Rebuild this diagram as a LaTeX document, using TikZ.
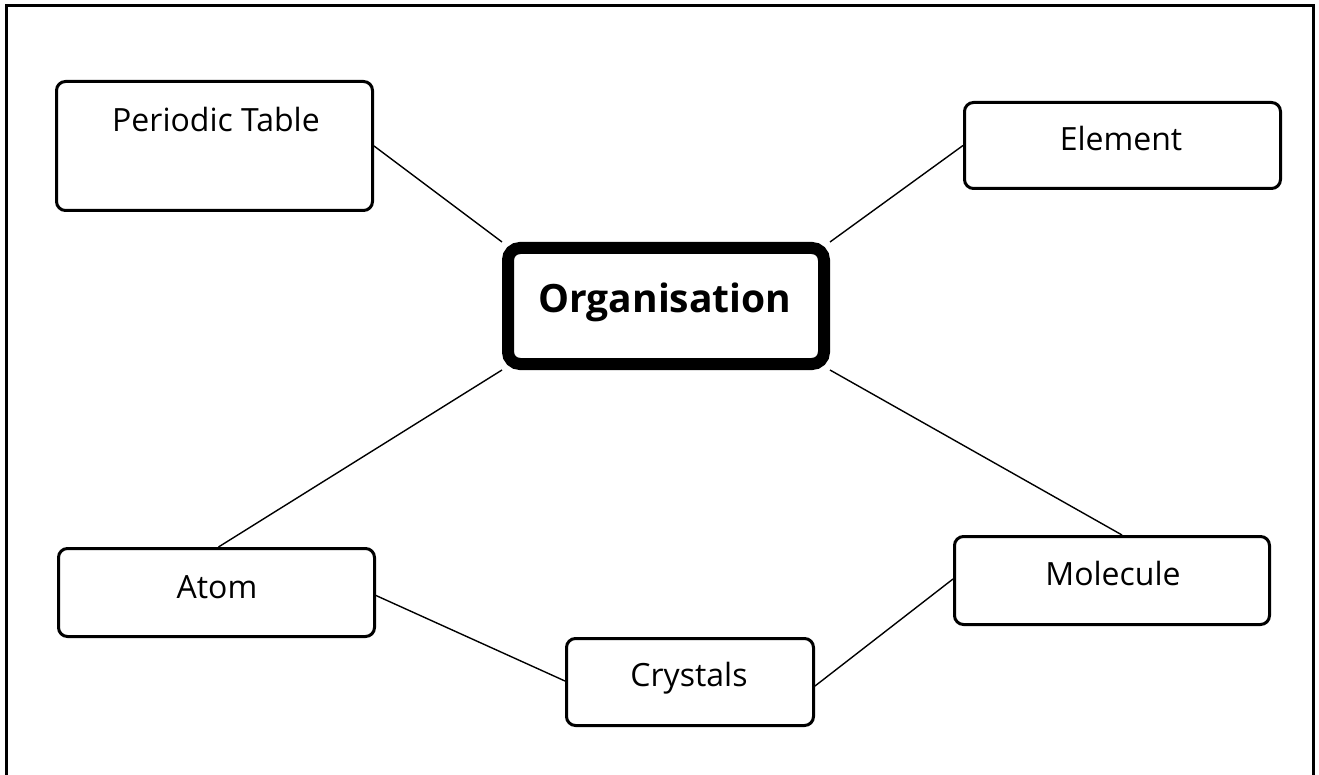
\documentclass[tikz,border=0pt]{standalone}
\usepackage{fontspec}
\setmainfont{Open Sans}
\usetikzlibrary{backgrounds}
\begin{document}
\begin{tikzpicture}[x=1pt,y=-1pt,
  box/.style={draw, line width=3pt, rounded corners=9pt, fill=white, inner sep=0pt},
  mainbox/.style={draw, line width=12pt, rounded corners=12pt, fill=white, inner sep=0pt,
    minimum width=316pt, minimum height=116pt},
  lbl/.style={font=\fontsize{32}{38}\selectfont, inner sep=0pt, anchor=base},
  mainlbl/.style={font=\fontsize{39}{46}\selectfont\bfseries, inner sep=0pt, anchor=base},
  link/.style={line width=1.4pt}]
\useasboundingbox (0,0) rectangle (1319,775);
\draw[line width=3pt] (6.5,800) -- (6.5,5.5) -- (1313,5.5) -- (1313,800);

\node[box, minimum width=316pt, minimum height=129pt] (pt) at (214.5,146) {};
\node[lbl] (ptt) at (216,132) {Periodic Table};
\node[box, minimum width=316pt, minimum height=86pt] (el) at (1122.5,145.5) {};
\node[lbl] (elt) at (1121,151) {Element};
\node[box, minimum width=316pt, minimum height=88pt] (at) at (216.5,592.5) {};
\node[lbl] (att) at (217,598) {Atom};
\node[box, minimum width=315pt, minimum height=88pt] (mo) at (1112,580.5) {};
\node[lbl] (mot) at (1113,585) {Molecule};
\node[box, minimum width=247pt, minimum height=87pt] (cr) at (690,682) {};
\node[lbl] (crt) at (689,686) {Crystals};
\node[mainbox] (org) at (666,306) {};
\node[mainlbl] (orgt) at (665,313) {Organisation};

\begin{scope}[on background layer]
\draw[link] (pt.east) -- (org.north west);
\draw[link] (el.west) -- (org.north east);
\draw[link] (org.south west) -- ([xshift=2pt]at.north);
\draw[link] (org.south east) -- ([xshift=10pt]mo.north);
\end{scope}
\draw[link] ([yshift=-3pt]at.east) -- ([yshift=1pt]cr.west);
\draw[link] ([yshift=-4pt]cr.east) -- ([yshift=1.5pt]mo.west);
\end{tikzpicture}
\end{document}
